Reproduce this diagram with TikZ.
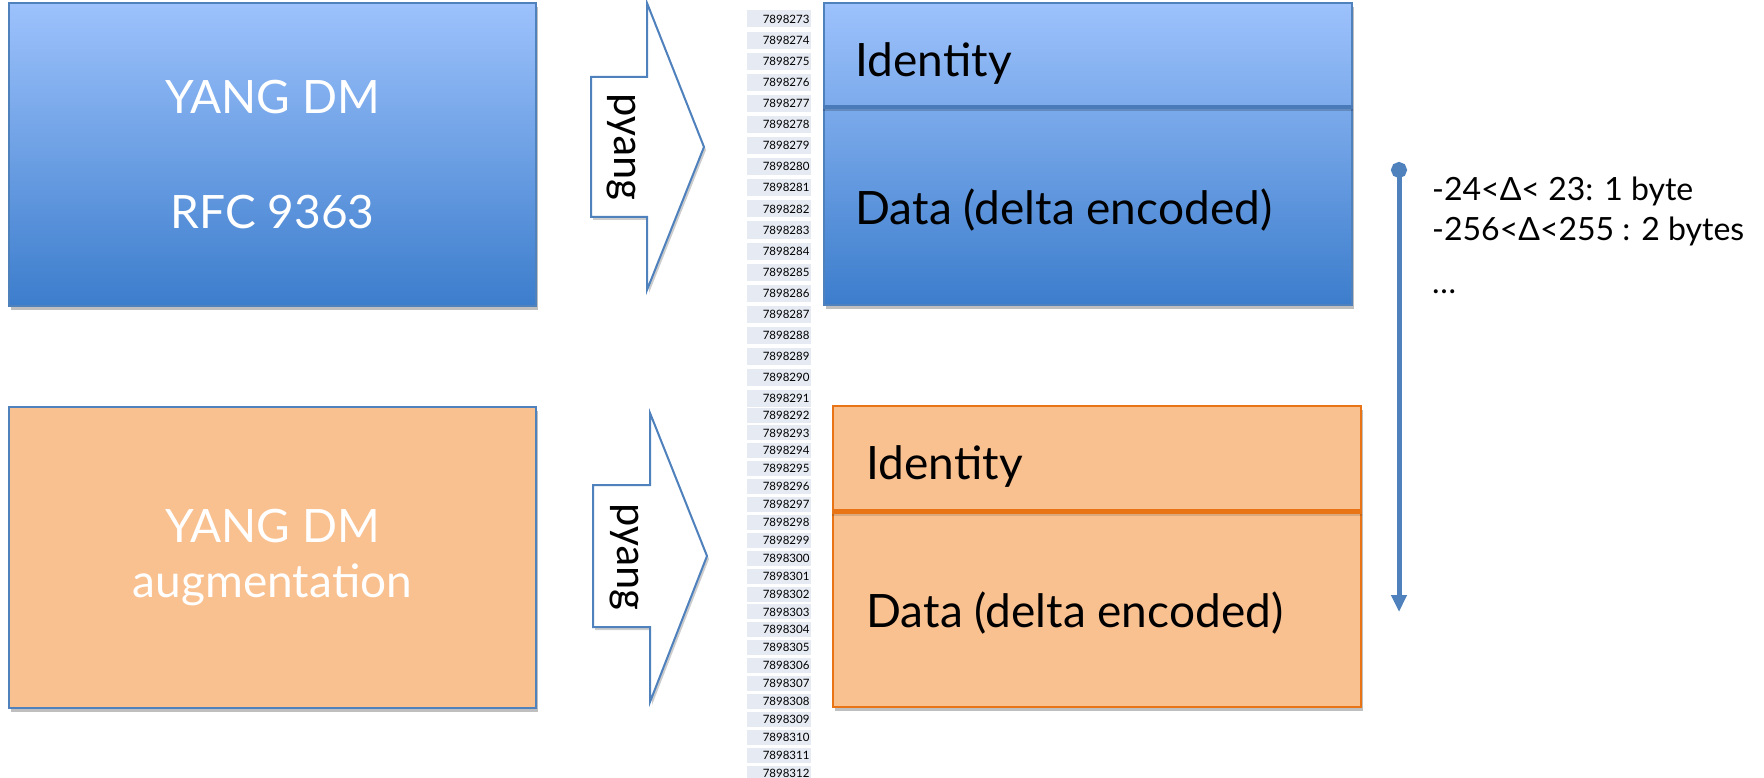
\documentclass[tikz,border=0pt]{standalone}
\usepackage{fontspec}
\setmainfont{Lato}
\newfontfamily\arrowfont{Carlito}
\usetikzlibrary{positioning}
\usetikzlibrary{arrows.meta}
\usetikzlibrary{shadows}

\definecolor{edgeblue}{RGB}{79,129,189}
\definecolor{topblue}{RGB}{157,194,252}
\definecolor{botblue}{RGB}{60,125,204}
\definecolor{divblue}{RGB}{74,122,184}
\definecolor{fillorange}{RGB}{249,192,144}
\definecolor{edgeorange}{RGB}{232,116,22}
\definecolor{cellgray}{RGB}{230,234,242}

\tikzset{
  boxshadow/.style={drop shadow={shadow xshift=2pt,shadow yshift=-4pt,opacity=0.25,fill=black}},
  bluebox/.style={rectangle,draw=edgeblue,line width=2pt,top color=topblue,bottom color=botblue,boxshadow},
  orangebox/.style={rectangle,draw=edgeblue,line width=2pt,fill=fillorange,boxshadow},
  orangeframe/.style={rectangle,draw=edgeorange,line width=2pt,fill=fillorange,boxshadow},
  bigtext/.style={font=\fontsize{46}{55}\selectfont},
  pyangarrow/.style={draw=edgeblue,line width=2pt,fill=white,line join=miter,drop shadow={shadow xshift=2pt,shadow yshift=-3pt,opacity=0.2,fill=black}},
  pyangtext/.style={font=\arrowfont\fontsize{44}{44}\selectfont,rotate=-90},
  numcell/.style={rectangle,fill=cellgray,minimum width=64pt,text width=61pt,align=right,inner xsep=1.5pt,inner ysep=0pt,font=\fontsize{11.5}{11.5}\selectfont}
}

\begin{document}
\begin{tikzpicture}[x=1pt,y=-1pt]
        \useasboundingbox (0,0) rectangle (1764,778);

        \node (rectYangRFC) at (272.5,154.5) [bluebox,minimum width=527pt,minimum height=303pt,text=white,bigtext,align=center] {YANG DM\\[60pt]RFC 9363};
        \node[below=99pt of rectYangRFC] (rectYangAug) [orangebox,minimum width=527pt,minimum height=301pt,text=white,bigtext,align=center] {YANG DM\\augmentation};

        \foreach \n [count=\i from 0] in {273,...,291}
          \node (num\n) at (779,19+\i*21.1) [numcell,minimum height=17pt] {7898\n};
        \foreach \n [count=\i from 0] in {292,...,312}
          \node (num\n) at (779,415+\i*17.9) [numcell,minimum height=15pt] {7898\n};

        \draw[pyangarrow] (591,77) -- (647,77) -- (647,3) -- (704,147) -- (647,290) -- (647,217) -- (591,217) -- cycle;
        \node (pyangTop) at (621,147) [pyangtext] {pyang};
        \draw[pyangarrow] (593,485) -- (650,485) -- (650,413) -- (707,556) -- (650,702) -- (650,627) -- (593,627) -- cycle;
        \node (pyangBottom) at (624,557) [pyangtext] {pyang};

        \node[right=286pt of rectYangRFC,yshift=0.5pt] (rectPacketBlue) [bluebox,minimum width=528pt,minimum height=302pt] {};
        \draw[black,opacity=0.18,line width=3pt] ([yshift=-108pt]rectPacketBlue.north west) -- ([yshift=-108pt]rectPacketBlue.north east);
        \draw[divblue,line width=4pt] ([yshift=-105pt]rectPacketBlue.north west) -- ([yshift=-105pt]rectPacketBlue.north east);
        \node (idBlue) at (852,77) [anchor=base west,bigtext] {Identity};
        \node (dataBlue) at (852,225) [anchor=base west,bigtext] {Data (delta encoded)};

        \node[below=99pt of rectPacketBlue,xshift=9pt] (rectPacketOrange) [orangeframe,minimum width=528pt,minimum height=301pt] {};
        \draw[black,opacity=0.12,line width=3pt] ([yshift=-109pt]rectPacketOrange.north west) -- ([yshift=-109pt]rectPacketOrange.north east);
        \draw[edgeorange,line width=5pt] ([yshift=-106pt]rectPacketOrange.north west) -- ([yshift=-106pt]rectPacketOrange.north east);
        \node (idOrange) at (863,479) [anchor=base west,bigtext] {Identity};
        \node (dataOrange) at (863,627) [anchor=base west,bigtext] {Data (delta encoded)};

        \coordinate (deltaTop) at (1399,162);
        \coordinate (deltaBottom) at (1399,612);
        \draw[edgeblue,line width=5pt,{Circle[length=16pt]}-{Triangle[length=17pt,width=15pt]}] (deltaTop) -- (deltaBottom);
        \node[right=33pt of deltaTop,anchor=north west,yshift=-15pt] (deltaNote) [inner sep=0pt,align=left,font=\fontsize{32}{40}\selectfont] {-24<Δ< 23: 1 byte\\-256<Δ<255 : 2 bytes\\[13pt]…};

    \end{tikzpicture}
\end{document}
